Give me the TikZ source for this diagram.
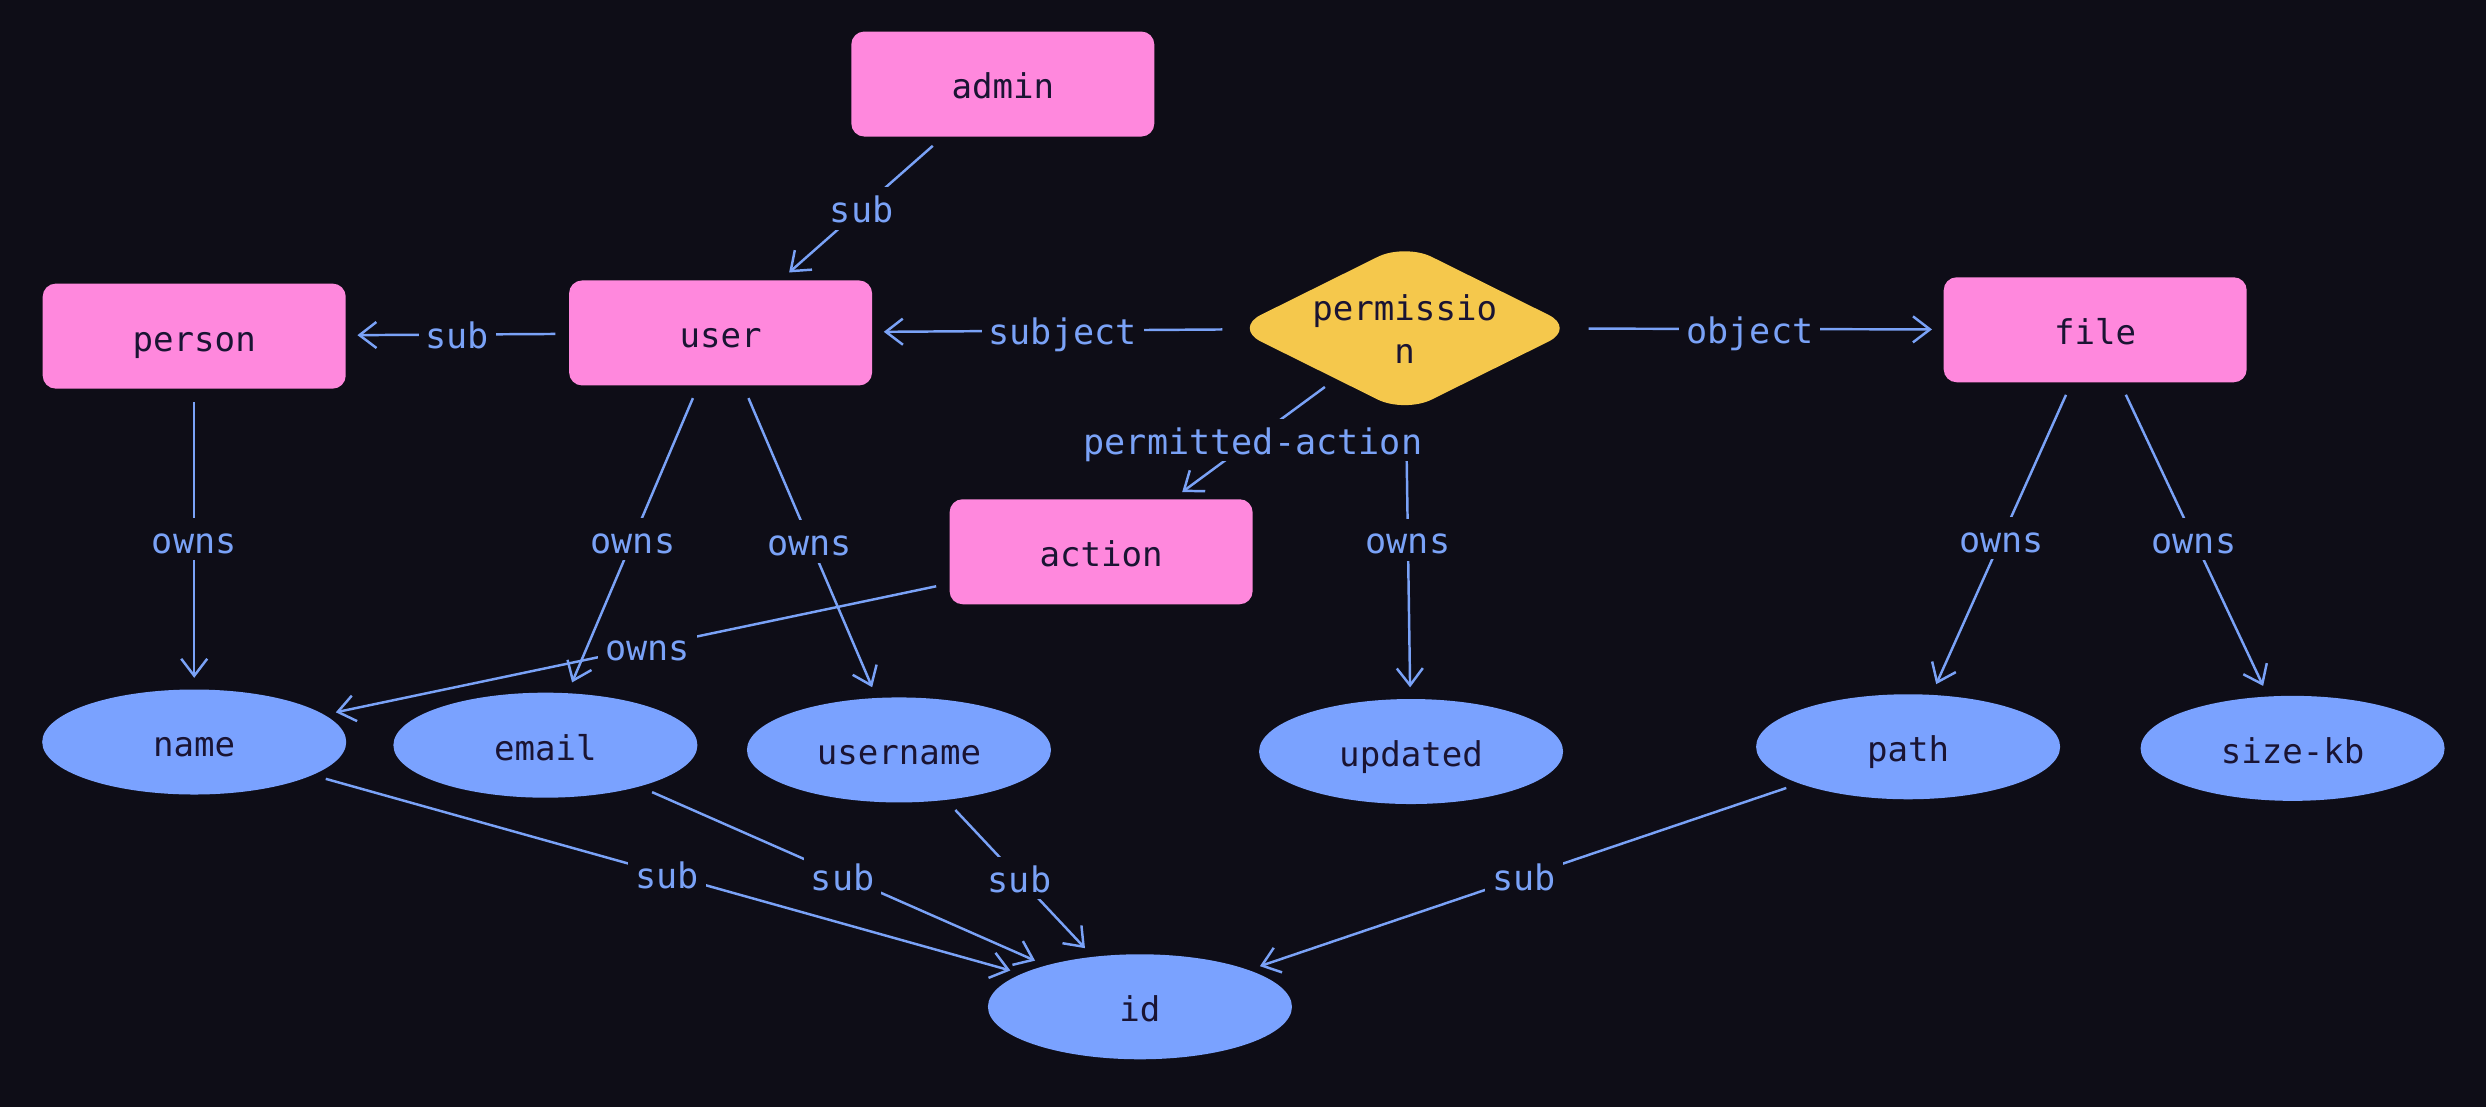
\documentclass[tikz,border=0pt]{standalone}
\usepackage{fontspec}
\setmonofont{DejaVu Sans Mono}
\usetikzlibrary{shapes.geometric,arrows.meta,calc}
\definecolor{bg}{HTML}{0E0D17}
\definecolor{pinkbox}{HTML}{FF88DD}
\definecolor{bluenode}{HTML}{7AA2FF}
\definecolor{edgeblue}{HTML}{7AA2F7}
\definecolor{yel}{HTML}{F5C84C}
\definecolor{ink}{HTML}{1A1433}
\begin{document}
\begin{tikzpicture}[x=0.015855cm,y=-0.015855cm,
 every node/.style={font=\ttfamily\fontsize{9.7}{12}\selectfont},
 entity/.style={rectangle, rounded corners=0.13cm, fill=pinkbox, text=ink, minimum width=3.03cm, minimum height=1.05cm, inner sep=0, text height=0.85em, text depth=0pt},
 attr/.style={ellipse, fill=bluenode, text=ink, minimum width=3.04cm, minimum height=1.05cm, inner sep=0, text height=0.85em, text depth=0pt},
 rel/.style={diamond, fill=yel, minimum width=3.42cm, minimum height=1.70cm, inner sep=0, rounded corners=0.3cm},
 edge/.style={draw=edgeblue, line width=0.7pt, -{Straight Barb[length=1.7mm,width=2.6mm]}, shorten <=1.3mm, shorten >=1.1mm},
 lbl/.style={fill=bg, text=edgeblue, inner sep=2pt, text height=0.8em, text depth=0pt, font=\ttfamily\fontsize{10}{12}\selectfont}]
\fill[bg] (0,0) rectangle (1568,698);
\useasboundingbox (0,0) rectangle (1568,698);

% nodes
\node[entity] (admin) at (632.5,53) {admin};
\node[entity] (person) at (122.5,212) {person};
\node[entity] (user) at (454.5,210) {user};
\node[rel] (perm) at (886,207) {};
\node[text=ink, align=center] (permtext) at (886,207.5) {permissio\\n};
\node[entity] (file) at (1321.5,208) {file};
\node[entity] (action) at (694.5,348) {action};
\node[attr] (name) at (122.5,468) {name};
\node[attr] (email) at (344,470) {email};
\node[attr] (username) at (567,473) {username};
\node[attr] (updated) at (890,474) {updated};
\node[attr] (path) at (1203.5,471) {path};
\node[attr] (sizekb) at (1446,472) {size-kb};
\node[attr] (id) at (719,635) {id};

% edges
\draw[edge] (admin) -- (user);
\draw[edge] (user) -- (person);
\draw[edge] (perm) -- (user);
\draw[edge] (perm) -- (file);
\draw[edge] (perm) -- (action);
\draw[edge] (perm) -- (updated);
\draw[edge] (person) -- (name);
\draw[edge] (user) -- (email);
\draw[edge] (user) -- (username);
\draw[edge] (action) -- (name);
\draw[edge] (file) -- (path);
\draw[edge] (file) -- (sizekb);
\draw[edge] (name) -- (id);
\draw[edge] (email) -- (id);
\draw[edge] (username) -- (id);
\draw[edge] (path) -- (id);

% labels
\node[lbl] (l1) at ($(admin)!.5!(user)$) {sub};
\node[lbl] (l2) at ($(user)!.5!(person)$) {sub};
\node[lbl] (l3) at ($(perm)!.5!(user)$) {subject};
\node[lbl] (l4) at ($(perm)!.5!(file)$) {object};
\node[lbl] (l5) at ($(perm)!.5!(action)$) {permitted-action};
\node[lbl] (l6) at ($(perm)!.5!(updated)$) {owns};
\node[lbl] (l7) at ($(person)!.5!(name)$) {owns};
\node[lbl] (l8) at ($(user)!.5!(email)$) {owns};
\node[lbl] (l9) at ($(user)!.5!(username)$) {owns};
\node[lbl] (l10) at ($(action)!.5!(name)$) {owns};
\node[lbl] (l11) at ($(file)!.5!(path)$) {owns};
\node[lbl] (l12) at ($(file)!.5!(sizekb)$) {owns};
\node[lbl] (l13) at ($(name)!.5!(id)$) {sub};
\node[lbl] (l14) at ($(email)!.5!(id)$) {sub};
\node[lbl] (l15) at ($(username)!.5!(id)$) {sub};
\node[lbl] (l16) at ($(path)!.5!(id)$) {sub};
\end{tikzpicture}
\end{document}
